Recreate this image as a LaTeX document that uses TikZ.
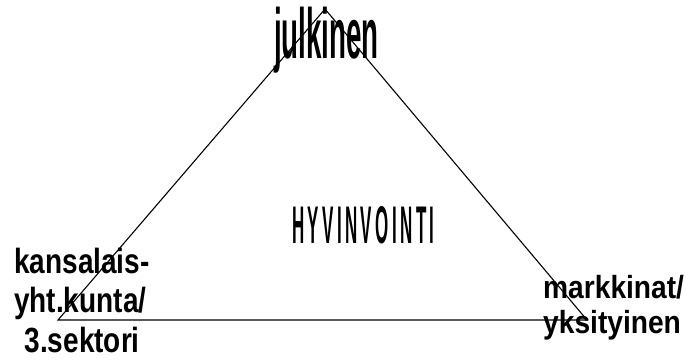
\documentclass[tikz,border=0pt]{standalone}
\usepackage{fontspec}
\setmainfont{Liberation Sans}
\begin{document}
\begin{tikzpicture}[x=1pt,y=1pt,
  kulmateksti/.style={anchor=base west, inner sep=0, font=\bfseries}]
\useasboundingbox (0,0) rectangle (686,360);
% kolmion kulmat
\coordinate (ylakulma) at (325,351);
\coordinate (vasenkulma) at (58,40);
\coordinate (oikeakulma) at (587,40);
\draw[line width=1.1pt] (vasenkulma) -- (ylakulma) -- (oikeakulma) -- cycle;
% tekstit
\node[kulmateksti] (julkinen) at (274,302)
  {\scalebox{0.39}[1]{\fontsize{71}{71}\selectfont\bfseries julkinen}};
\node[kulmateksti] (hyvinvointi) at (292,117)
  {\scalebox{0.32}[1]{\fontsize{53}{53}\selectfont\bfseries\addfontfeature{LetterSpace=20}HYVINVOINTI}};
\node[kulmateksti] (kansalais) at (14,8)
  {\scalebox{0.8}[1]{\fontsize{35}{39.5}\selectfont\bfseries
   \begin{tabular}[b]{@{}l@{}}kansalais-\\yht.kunta/\\\hspace*{13pt}3.sektori\end{tabular}}};
\node[kulmateksti] (markkinat) at (543,27)
  {\scalebox{0.88}[1]{\fontsize{32}{35}\selectfont\bfseries
   \begin{tabular}[b]{@{}l@{}}markkinat/\\yksityinen\end{tabular}}};
\end{tikzpicture}
\end{document}
